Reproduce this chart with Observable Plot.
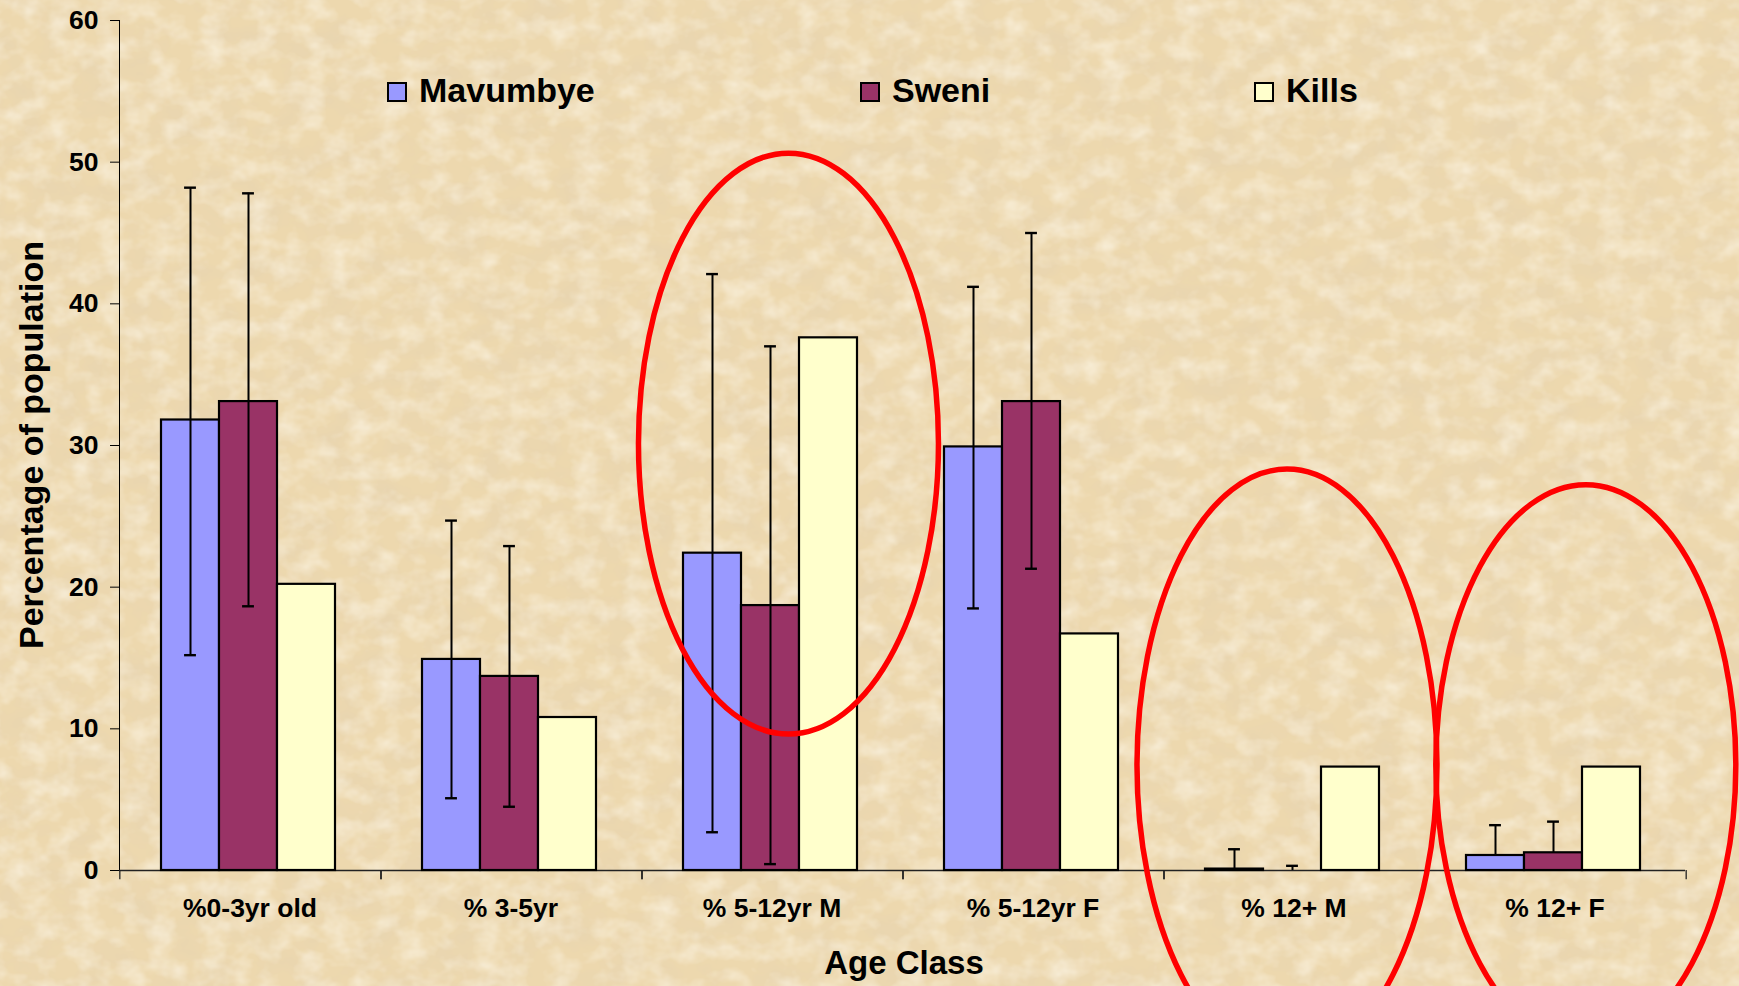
<!DOCTYPE html>
<html>
<head>
<meta charset="utf-8">
<script src="https://cdn.jsdelivr.net/npm/d3@7"></script>
<script src="https://cdn.jsdelivr.net/npm/@observablehq/plot@0.6"></script>
<style>
  html, body { margin: 0; padding: 0; overflow: hidden; }
  body {
    width: 1739px; height: 986px;
    background-color: #edd8ae;
    background-image: url("data:image/svg+xml;utf8,<svg xmlns='http://www.w3.org/2000/svg' width='1739' height='986'><filter id='n' x='0' y='0' width='100%25' height='100%25'><feTurbulence type='fractalNoise' baseFrequency='0.025 0.035' numOctaves='4' seed='7'/><feColorMatrix type='matrix' values='0 0 0 0 0.80  0 0 0 0 0.66  0 0 0 0 0.44  0 0 0 1.5 -0.58'/></filter><filter id='m' x='0' y='0' width='100%25' height='100%25'><feTurbulence type='fractalNoise' baseFrequency='0.04 0.05' numOctaves='3' seed='2'/><feColorMatrix type='matrix' values='0 0 0 0 0.97  0 0 0 0 0.91  0 0 0 0 0.78  0 0 0 1.3 -0.52'/></filter><rect width='100%25' height='100%25' filter='url(%23n)'/><rect width='100%25' height='100%25' filter='url(%23m)'/></svg>");
    font-family: "Liberation Sans", Arial, sans-serif;
  }
  #wrap { position: relative; width: 1739px; height: 986px; }
  #chart svg { display: block; }
  .ov { position: absolute; font-weight: bold; color: #000; white-space: nowrap; line-height: 1; }
  .sw { position: absolute; width: 20px; height: 20px; box-sizing: border-box; border: 2px solid #000; }
</style>
</head>
<body>
<div id="wrap">
  <div id="chart"></div>
</div>
<script>
// ---- data ----
const categories = ["%0-3yr old", "% 3-5yr", "% 5-12yr M", "% 5-12yr F", "% 12+ M", "% 12+ F"];
const seriesNames = ["Mavumbye", "Sweni", "Kills"];
const seriesColors = ["#9999ff", "#993366", "#ffffcc"];

const mavumbye     = [31.8, 14.9, 22.4, 29.9, 0.1, 1.06];
const mavumbyeLow  = [15.2, 5.1, 2.7, 18.5, null, null];
const mavumbyeHigh = [48.2, 24.7, 42.1, 41.2, 1.5, 3.2];

const sweni     = [33.1, 13.7, 18.7, 33.1, 0, 1.25];
const sweniLow  = [18.65, 4.5, 0.45, 21.3, null, null];
const sweniHigh = [47.8, 22.9, 37.0, 45.0, 0.33, 3.45];

const kills = [20.2, 10.8, 37.6, 16.7, 7.3, 7.3];

const yTicks = [0, 10, 20, 30, 40, 50, 60];

// highlighted groups (red ellipse annotations): category, y-centre, y-radius (data units)
const ellipseCats    = ["% 5-12yr M", "% 12+ M", "% 12+ F"];
const ellipseYCenter = [30.1, 7.4, 7.4];
const ellipseYRadius = [20.5, 20.9, 19.8];

// ---- table built from arrays ----
const table = [];
categories.forEach((c, i) => {
  table.push({cat: c, series: "Mavumbye", value: mavumbye[i], lo: mavumbyeLow[i], hi: mavumbyeHigh[i]});
  table.push({cat: c, series: "Sweni", value: sweni[i], lo: sweniLow[i], hi: sweniHigh[i]});
  table.push({cat: c, series: "Kills", value: kills[i], lo: null, hi: null});
});

// ---- layout ----
const W = 1739, H = 986;
const mL = 117, mR = 52, mT = 20, mB = 116;
const facetW = (W - mL - mR) / categories.length;
const xStep = facetW / 4.5;           // band step inside a facet (paddingOuter 0.75)
const capInset = (xStep - 12) / 2;

const plot = Plot.plot({
  width: W,
  height: H,
  marginLeft: mL,
  marginRight: mR,
  marginTop: mT,
  marginBottom: mB,
  style: {
    background: "transparent",
    fontFamily: "'Liberation Sans', Arial, sans-serif",
    fontSize: "26.5px",
    fontWeight: "bold",
    color: "#000",
    overflow: "hidden"
  },
  facet: {data: table, x: "cat"},
  fx: {domain: categories, padding: 0, label: null, tickSize: 0, tickPadding: 28, axis: "bottom"},
  x: {domain: seriesNames, paddingInner: 0, paddingOuter: 0.75, axis: null},
  y: {domain: [0, 60], ticks: yTicks, tickSize: 9, tickPadding: 12, label: null, line: true},
  color: {domain: seriesNames, range: seriesColors},
  marks: [
    Plot.ruleY([0], {stroke: "#222", strokeWidth: 1.3}),
    Plot.ruleX([seriesNames[0]], {x: d => d, y1: 0, y2: -0.65, dx: -1.25 * xStep, stroke: "#222", strokeWidth: 1.3}),
    Plot.ruleX([seriesNames[2]], {x: d => d, y1: 0, y2: -0.65, dx: 1.25 * xStep, stroke: "#222", strokeWidth: 1.3}),
    Plot.barY(table, {x: "series", y: "value", fill: "series", stroke: "#000", strokeWidth: 2.2, dx: -2}),
    Plot.ruleX(table, {filter: d => d.hi != null, x: "series", y1: d => d.lo ?? d.value, y2: "hi", stroke: "#000", strokeWidth: 2, dx: -2}),
    Plot.tickY(table, {filter: d => d.hi != null, x: "series", y: "hi", insetLeft: capInset, insetRight: capInset, stroke: "#000", strokeWidth: 2.4, dx: -2}),
    Plot.tickY(table, {filter: d => d.lo != null, x: "series", y: "lo", insetLeft: capInset, insetRight: capInset, stroke: "#000", strokeWidth: 2.4, dx: -2})
  ]
});

document.getElementById("chart").appendChild(plot);

// ---- red ellipse annotations, placed through the plot's scales ----
(function () {
  let fxS = null, yS = null;
  try { fxS = plot.scale("fx"); } catch (e) {}
  try { yS = plot.scale("y"); } catch (e) {}
  const bandStart = c => (fxS && fxS.apply) ? fxS.apply(c) : mL + categories.indexOf(c) * facetW;
  const bw = (fxS && fxS.bandwidth) ? fxS.bandwidth : facetW;
  const yPx = v => (yS && yS.apply) ? yS.apply(v) : (H - mB) - (v / 60) * (H - mB - mT);
  const xShift = [0.565, 0.475, 0.62]; // centre position inside the band (fraction)
  const rx = 150;
  const g = d3.select(plot).append("g").attr("aria-label", "annotations");
  ellipseCats.forEach((c, i) => {
    const cy = yPx(ellipseYCenter[i]);
    const ry = Math.abs(yPx(ellipseYCenter[i] + ellipseYRadius[i]) - cy);
    g.append("ellipse")
      .attr("cx", bandStart(c) + bw * xShift[i])
      .attr("cy", cy)
      .attr("rx", rx)
      .attr("ry", ry)
      .attr("fill", "none")
      .attr("stroke", "#ff0000")
      .attr("stroke-width", 5.5);
  });
})();

// ---- titles & legend (HTML overlays) ----
const wrap = document.getElementById("wrap");
function addText(txt, css) {
  const d = document.createElement("div");
  d.className = "ov";
  d.textContent = txt;
  Object.assign(d.style, css);
  wrap.appendChild(d);
  return d;
}
// y axis title
addText("Percentage of population", {
  left: "31px", top: "445px", fontSize: "34px",
  transform: "translate(-50%, -50%) rotate(-90deg)"
});
// x axis title
addText("Age Class", {left: "904px", top: "946px", fontSize: "33px", transform: "translateX(-50%)"});

// legend
const legendX = [387, 860, 1254];
seriesNames.forEach((s, i) => {
  const sw = document.createElement("div");
  sw.className = "sw";
  sw.style.left = legendX[i] + "px";
  sw.style.top = "82px";
  sw.style.background = seriesColors[i];
  wrap.appendChild(sw);
  addText(s, {left: (legendX[i] + 32) + "px", top: "73px", fontSize: "34px"});
});
</script>
</body>
</html>
